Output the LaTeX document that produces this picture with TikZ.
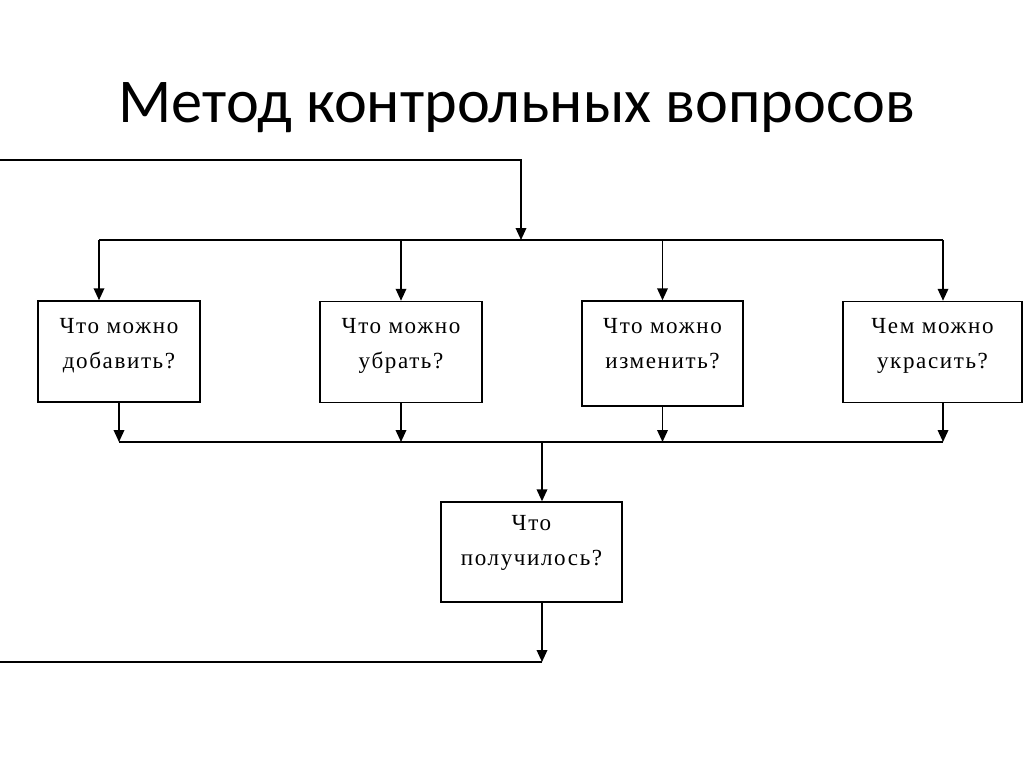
\documentclass[tikz,border=0pt]{standalone}
\usepackage{fontspec}
\setmainfont{Liberation Serif}
\newfontfamily\titlefont{Carlito}
\newfontfamily\qfont[LetterSpace=7]{Liberation Serif}
\usetikzlibrary{positioning,calc}
\usetikzlibrary{arrows.meta}

\begin{document}
\begin{tikzpicture}[x=0.025cm, y=-0.025cm,
  qbox/.style={draw, line width=1pt, inner sep=0pt, align=center,
    font=\qfont\fontsize{16.4}{24.9}\selectfont,
    text height=47.7pt, text depth=24.2pt},
  link/.style={line width=1.2pt},
  arr/.style={link, -{Triangle[length=8.5pt, width=7.5pt]}}]
  \useasboundingbox (0, 0) rectangle (1024, 767);

  \node[anchor=base, font=\titlefont\fontsize{44.3}{50}\selectfont] at (517, 123) (title) {Метод контрольных вопросов};

  \node[qbox, minimum width=4.05cm] at (119, 351.5) (n_add) {Что можно\\добавить?};
  \node[qbox, minimum width=4.05cm] at (401, 352) (n_cut) {Что можно\\убрать?};
  \node[qbox, minimum width=4.03cm, text depth=27pt] at (662.5, 353.5) (n_change) {Что можно\\изменить?};
  \node[qbox, minimum width=4.48cm] at (932.5, 352) (n_deco) {Чем можно\\украсить?};
  \node[qbox, minimum width=4.53cm, text height=45.5pt, text depth=25.6pt] at (531.5, 552) (n_result) {Что\\получилось?};

  \coordinate (fb_in) at (0, 160);
  \coordinate (fb_turn) at (521, 160);
  \coordinate (split) at (521, 240);
  \coordinate (split_l) at (99, 240);
  \coordinate (split_r) at (943, 240);
  \coordinate (join_l) at (119, 442);
  \coordinate (join_r) at (943, 442);
  \coordinate (join_m) at (542, 442);
  \coordinate (fb_out) at (542, 662);
  \coordinate (fb_end) at (0, 662);

  % feedback in, split to the four questions
  \draw[arr] (fb_in) -- (fb_turn) -- (split);
  \draw[link] (split_l) -- (split_r);
  \draw[arr] (split_l) -- (split_l |- n_add.north);
  \draw[arr] (n_cut.north |- split) -- (n_cut.north);
  \draw[arr] (n_change.north |- split) -- (n_change.north);
  \draw[arr] (split_r) -- (split_r |- n_deco.north);

  % join
  \draw[arr] (n_add.south) -- (n_add.south |- join_l);
  \draw[arr] (n_cut.south) -- (n_cut.south |- join_l);
  \draw[arr] (n_change.south) -- (n_change.south |- join_l);
  \draw[arr] (join_r |- n_deco.south) -- (join_r);
  \draw[link] (join_l) -- (join_r);

  \draw[arr] (join_m) -- (join_m |- n_result.north);
  \draw[arr] (join_m |- n_result.south) -- (fb_out);
  \draw[link] (fb_out) -- (fb_end);

\end{tikzpicture}
\end{document}
